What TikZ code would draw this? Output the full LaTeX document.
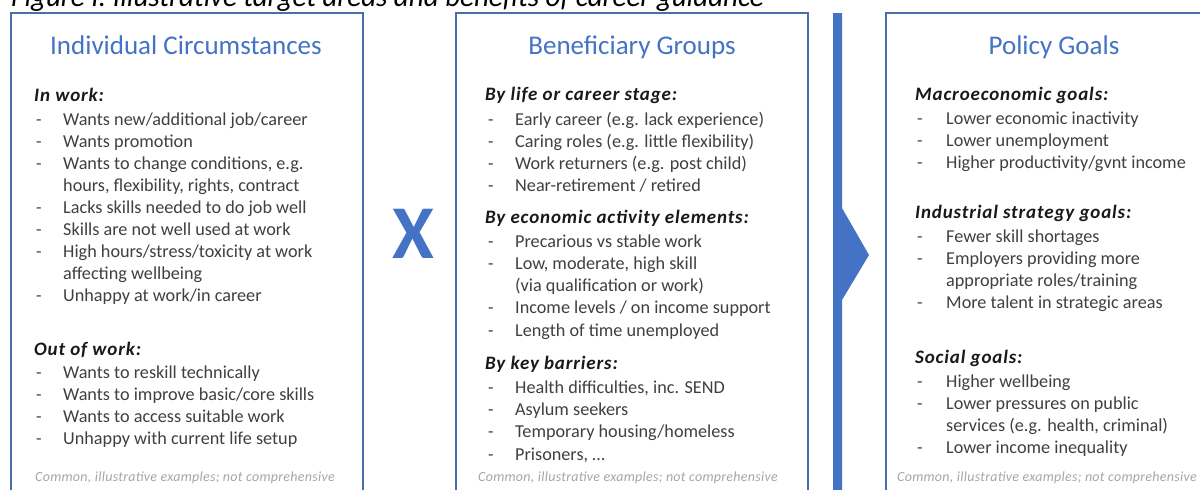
\documentclass[tikz,border=0pt]{standalone}
\usepackage{fontspec}
\setmainfont{Carlito}
\newfontfamily\headfont[LetterSpace=4.5]{Carlito}
\newfontfamily\notefont[LetterSpace=2]{Carlito}
\definecolor{titleblue}{HTML}{4472C4}
\definecolor{boxblue}{HTML}{4A6EAD}
\definecolor{itemgray}{HTML}{404040}
\definecolor{notegray}{HTML}{A6A6A6}
\tikzset{
  panel/.style={draw=boxblue, line width=2pt},
  ptitle/.style={anchor=base, inner sep=0pt, text=titleblue, font=\fontsize{27}{32}\selectfont},
  phead/.style={anchor=base west, inner sep=0pt, text=black!90, font=\headfont\fontsize{19}{23}\selectfont\bfseries\itshape},
  pdash/.style={anchor=base west, inner sep=0pt, text=itemgray, font=\fontsize{18}{22}\selectfont},
  pitem/.style={anchor=base west, inner sep=0pt, text=itemgray, font=\fontsize{18.2}{22}\selectfont},
  pnote/.style={anchor=base west, inner sep=0pt, text=notegray, font=\notefont\fontsize{14}{17}\selectfont\itshape},
}
\newcommand{\litem}[5]{% name, dashx, textx, baseline, text
  \node[pdash] (#1d) at (#2,#4) {-};
  \node[pitem] (#1) at (#3,#4) {#5};
}
\begin{document}
\begin{tikzpicture}[x=1pt,y=-1pt]
\useasboundingbox (0,0) rectangle (1200,490);
\clip (0,0) rectangle (1200,490);
\fill[white] (0,0) rectangle (1200,490);

% caption
\node[anchor=base west, inner sep=0pt, font=\fontsize{29}{34}\selectfont\itshape] (cap) at (11,6) {Figure I: Illustrative target areas and benefits of career guidance};

% panels
\draw[panel] (11,13) rectangle (363,520);
\draw[panel] (456,13) rectangle (808,520);
\draw[panel] (886,13) rectangle (1240,520);

% chevron bar
\fill[titleblue] (833,13) -- (842,13) -- (842,208) -- (869,255) -- (842,300) -- (842,520) -- (833,520) -- cycle;

% big X
\node[inner sep=0pt, text=titleblue, font=\fontsize{76}{80}\selectfont\bfseries] (times) at (413,234) {X};

% ---- Panel 1
\node[ptitle] (t1) at (186,54) {Individual Circumstances};
\node[phead] (h1a) at (34,101) {In work:};
\litem{a1}{36}{63}{125}{Wants new/additional job/career}
\litem{a2}{36}{63}{147}{Wants promotion}
\litem{a3}{36}{63}{169}{Wants to change conditions, e.g.}
\node[pitem] (a3b) at (63,191) {hours, flexibility, rights, contract};
\litem{a4}{36}{63}{213}{Lacks skills needed to do job well}
\litem{a5}{36}{63}{235}{Skills are not well used at work}
\litem{a6}{36}{63}{257}{High hours/stress/toxicity at work}
\node[pitem] (a6b) at (63,279) {affecting wellbeing};
\litem{a7}{36}{63}{301}{Unhappy at work/in career}
\node[phead] (h1b) at (34,355) {Out of work:};
\litem{b1}{36}{63}{378}{Wants to reskill technically}
\litem{b2}{36}{63}{400}{Wants to improve basic/core skills}
\litem{b3}{36}{63}{422}{Wants to access suitable work}
\litem{b4}{36}{63}{444}{Unhappy with current life setup}
\node[pnote] (n1) at (35,481) {Common, illustrative examples; not comprehensive};

% ---- Panel 2
\node[ptitle] (t2) at (632,54) {Beneficiary Groups};
\node[phead] (h2a) at (485,100) {By life or career stage:};
\litem{c1}{488}{515}{125}{Early career (e.g. lack experience)}
\litem{c2}{488}{515}{147}{Caring roles (e.g. little flexibility)}
\litem{c3}{488}{515}{169}{Work returners (e.g. post child)}
\litem{c4}{488}{515}{191}{Near-retirement / retired}
\node[phead] (h2b) at (485,223) {By economic activity elements:};
\litem{d1}{488}{515}{247}{Precarious vs stable work}
\litem{d2}{488}{515}{269}{Low, moderate, high skill}
\node[pitem] (d2b) at (515,291) {(via qualification or work)};
\litem{d3}{488}{515}{313}{Income levels / on income support}
\litem{d4}{488}{515}{336}{Length of time unemployed}
\node[phead] (h2c) at (485,369) {By key barriers:};
\litem{e1}{488}{515}{393}{Health difficulties, inc. SEND}
\litem{e2}{488}{515}{415}{Asylum seekers}
\litem{e3}{488}{515}{437}{Temporary housing/homeless}
\litem{e4}{488}{515}{460}{Prisoners, \dots}
\node[pnote] (n2) at (478,481) {Common, illustrative examples; not comprehensive};

% ---- Panel 3
\node[ptitle] (t3) at (1054,54) {Policy Goals};
\node[phead] (h3a) at (915,100) {Macroeconomic goals:};
\litem{f1}{917}{946}{124}{Lower economic inactivity}
\litem{f2}{917}{946}{146}{Lower unemployment}
\litem{f3}{917}{946}{168}{Higher productivity/gvnt income}
\node[phead] (h3b) at (915,218) {Industrial strategy goals:};
\litem{g1}{917}{946}{242}{Fewer skill shortages}
\litem{g2}{917}{946}{264}{Employers providing more}
\node[pitem] (g2b) at (946,286) {appropriate roles/training};
\litem{g3}{917}{946}{308}{More talent in strategic areas}
\node[phead] (h3c) at (915,363) {Social goals:};
\litem{k1}{917}{946}{387}{Higher wellbeing}
\litem{k2}{917}{946}{409}{Lower pressures on public}
\node[pitem] (k2b) at (946,431) {services (e.g. health, criminal)};
\litem{k3}{917}{946}{453}{Lower income inequality}
\node[pnote] (n3) at (897,481) {Common, illustrative examples; not comprehensive};
\end{tikzpicture}
\end{document}
